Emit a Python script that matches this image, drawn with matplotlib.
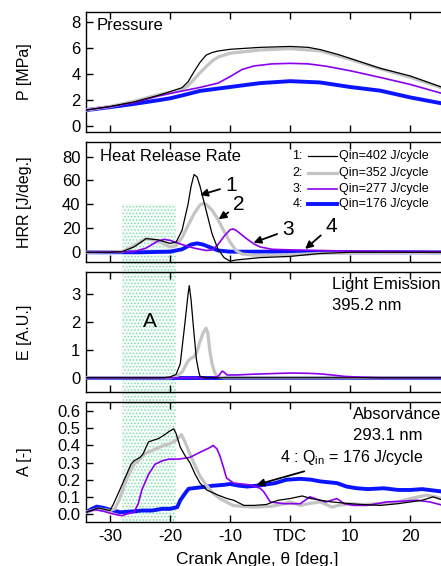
import matplotlib
matplotlib.use("Agg")
import matplotlib.pyplot as plt
from matplotlib.patches import Rectangle
from matplotlib.lines import Line2D

plt.rcParams['font.family'] = ['Liberation Sans', 'DejaVu Sans']
plt.rcParams['hatch.linewidth'] = 0.7

# ---------------- data ----------------
xticks = [-30, -20, -10, 0, 10, 20]
xticklabels = ['-30', '-20', '-10', 'TDC', '10', '20']

legend_ids = ['1:', '2:', '3:', '4:']
legend_labels = ['Qin=402 J/cycle', 'Qin=352 J/cycle', 'Qin=277 J/cycle', 'Qin=176 J/cycle']

# Pressure [MPa]
p1_t = [-34, -30, -26, -22, -20, -18, -17, -16, -15, -14, -13, -12, -10, -5, 0, 3, 5, 8, 10, 15, 20, 25.5]
p1_v = [1.23, 1.5, 1.85, 2.35, 2.64, 2.95, 3.4, 4.18, 4.9, 5.45, 5.65, 5.77, 5.9, 6.05, 6.12, 6.05, 5.88, 5.5, 5.2, 4.44, 3.85, 2.95]
p2_t = [-34, -30, -26, -22, -20, -18, -17, -16, -15, -14, -13, -12, -10, -5, 0, 5, 10, 15, 20, 25.5]
p2_v = [1.23, 1.5, 1.9, 2.4, 2.6, 2.8, 3.1, 3.6, 4.1, 4.56, 5.0, 5.3, 5.6, 5.85, 5.95, 5.78, 5.13, 4.4, 3.75, 2.9]
p3_t = [-34, -30, -26, -22, -20, -15, -12, -10, -8, -6, -3, 0, 3, 6, 10, 15, 20, 25.5]
p3_v = [1.23, 1.48, 1.8, 2.3, 2.5, 2.97, 3.3, 3.8, 4.35, 4.62, 4.78, 4.82, 4.78, 4.6, 4.25, 3.74, 3.2, 2.48]
p4_t = [-34, -30, -26, -22, -20, -18, -15, -10, -5, 0, 5, 10, 15, 20, 25.5]
p4_v = [1.22, 1.45, 1.7, 1.98, 2.13, 2.35, 2.7, 3.0, 3.3, 3.45, 3.35, 3.0, 2.72, 2.2, 1.72]

# Heat release rate [J/deg.]
h1_t = [-34, -30, -28, -26, -24, -22, -20, -19, -18, -17, -16.5, -16, -15.5, -15, -14, -13, -12, -11, -10, -9, -7, -5, 0, 5, 10, 25.5]
h1_v = [-0.5, -0.5, 0, 4, 11, 10, 7, 8, 18, 40, 55, 65, 63, 55, 35, 15, 2, -5, -8, -7, -6, -5, -4, -1.5, -0.5, -0.5]
h2_t = [-34, -28, -26, -24, -22, -20, -19, -18, -17, -16, -15, -14.5, -14, -13, -12, -11, -10, -9, -8, -6, -3, 0, 5, 10, 25.5]
h2_v = [-0.5, 0, 5, 11, 9, 4, 5, 12, 22, 32, 39.5, 40.5, 40, 35, 27, 17, 8, 1, -2, -3, -3, -2.5, -1.5, -1, -0.5]
h3_t = [-34, -26, -24, -22, -21, -20, -18, -16, -14, -13, -12, -11, -10, -9.5, -9, -8, -7, -6, -5, -3, 0, 5, 10, 25.5]
h3_v = [-0.5, 0, 3, 9, 10.4, 9.5, 6, 3, 1, 1.5, 6, 13, 18.5, 19.2, 18, 14, 10, 6.5, 4, 2, 1.5, 1, 0.5, 0]
h4_t = [-34, -25, -20, -18, -16.5, -15.5, -14.5, -13, -12, -10, 0, 10, 25.5]
h4_v = [-0.5, -0.5, 0, 2, 6, 7, 6, 3, 1, 0, 0, -0.5, -0.5]

# Light emission 395.2 nm [A.U.]
e1_t = [-34, -21, -20, -19, -18.3, -17.5, -17, -16.8, -16.5, -16.1, -15.6, -15.2, -15, -14, 25.5]
e1_v = [0, 0, 0.03, 0.12, 0.5, 2.0, 3.0, 3.3, 2.8, 1.8, 0.65, 0.2, 0.05, 0, 0]
e2_t = [-34, -20, -19, -18, -17.5, -17, -16.5, -16, -15.5, -15, -14.5, -14, -13.7, -13.4, -13, -12.6, -12.2, -11, 25.5]
e2_v = [0, 0, 0.05, 0.2, 0.4, 0.6, 0.7, 0.75, 0.95, 1.3, 1.6, 1.78, 1.6, 1.0, 0.5, 0.2, 0.05, 0, 0]
e3_t = [-34, -13, -12, -11.3, -11, -10.5, -9, -6, -3, 0, 3, 5, 7, 9, 12, 15, 25.5]
e3_v = [0, 0, 0.05, 0.24, 0.2, 0.1, 0.1, 0.13, 0.15, 0.17, 0.16, 0.14, 0.1, 0.05, 0.02, 0, 0]
e4_t = [-34, 25.5]
e4_v = [0, 0]

# Absorbance 293.1 nm [-]
a1_t = [-34, -32, -30, -29.4, -28.5, -27.5, -26.5, -26, -25, -24.5, -23.6, -22.8, -21.9, -21, -20.2, -19.4, -19, -18.3, -17.5,
        -16.7, -15.8, -15, -13.9, -12, -10.5, -9.4, -7.7, -6, -4, -2, 0, 2, 3.5, 5, 7, 10, 12, 15, 18, 20, 22, 23.8, 25.5]
a1_v = [0.01, 0.035, 0.02, 0.06, 0.13, 0.21, 0.29, 0.31, 0.33, 0.35, 0.42, 0.43, 0.44, 0.46, 0.48, 0.497, 0.47, 0.39, 0.34,
        0.30, 0.23, 0.18, 0.14, 0.11, 0.09, 0.08, 0.05, 0.05, 0.055, 0.08, 0.09, 0.105, 0.09, 0.08, 0.07, 0.06, 0.055, 0.05,
        0.06, 0.07, 0.08, 0.1, 0.08]
a2_t = [-34, -32, -30, -29.2, -28.5, -27.7, -27, -26, -25, -24.3, -23, -22, -21, -20, -19, -18.1, -17.5, -16.7, -15.8, -15,
        -14, -12.8, -11.7, -10.6, -9.5, -8.3, -6, -3, -1, 0, 1.7, 3, 5, 7, 8, 10, 12, 15, 18, 20, 22.8, 25.5]
a2_v = [0.01, 0.03, 0.02, 0.03, 0.08, 0.16, 0.22, 0.29, 0.32, 0.35, 0.37, 0.385, 0.40, 0.41, 0.43, 0.463, 0.42, 0.35, 0.28,
        0.22, 0.17, 0.12, 0.09, 0.07, 0.05, 0.045, 0.04, 0.045, 0.06, 0.07, 0.05, 0.06, 0.07, 0.04, 0.05, 0.06, 0.055, 0.06,
        0.07, 0.09, 0.11, 0.09]
a3_t = [-34, -32.5, -31, -29.5, -28, -27.2, -26, -25.3, -24.7, -23.6, -22.5, -21.3, -20.2, -18.5, -16.7, -15, -13.5, -12.8,
        -12.2, -11.7, -11, -10.6, -9.4, -6.7, -5, -4.4, -3.3, -1, 1.7, 3.3, 5, 6, 7.8, 9, 10.6, 12.8, 16.1, 19, 21.1, 23.3, 25.5]
a3_v = [0.01, 0.025, 0.015, 0.0, -0.01, 0.0, 0.01, 0.06, 0.14, 0.23, 0.29, 0.31, 0.32, 0.32, 0.33, 0.36, 0.385, 0.40,
        0.38, 0.34, 0.26, 0.21, 0.18, 0.17, 0.15, 0.13, 0.07, 0.06, 0.06, 0.1, 0.08, 0.07, 0.09, 0.06, 0.05, 0.05, 0.07,
        0.075, 0.08, 0.07, 0.05]
a4_t = [-34, -33, -32.2, -31, -30, -28.3, -26, -24.7, -23, -21.3, -20, -18.8, -18.3, -17.5, -16.9, -15, -12.8, -11, -10,
        -8.5, -7.2, -5.5, -4.4, -2.5, -0.6, 1.7, 3.5, 5, 7.8, 9.4, 11.1, 13, 15.6, 18, 20, 22, 25.5]
a4_v = [0.01, 0.03, 0.043, 0.035, 0.025, 0.01, 0.015, 0.02, 0.02, 0.03, 0.03, 0.04, 0.08, 0.12, 0.147, 0.155, 0.165, 0.17,
        0.175, 0.165, 0.16, 0.165, 0.17, 0.18, 0.2, 0.205, 0.2, 0.19, 0.18, 0.16, 0.15, 0.145, 0.15, 0.14, 0.14, 0.145, 0.13]

# ---------------- style ----------------
C1, C2, C3, C4 = 'black', '#c4c4c4', '#8a00f0', '#0a14ff'
LW1, LW2, LW3, LW4 = 0.9, 2.3, 1.2, 2.8
TXT = 12

fig = plt.figure(figsize=(4.41, 5.66), dpi=100)
left, width, height = 0.195, 0.81, 0.212
bottoms = [0.7668, 0.5371, 0.3074, 0.0783]
axes = [fig.add_axes([left, b, width, height]) for b in bottoms]
ax1, ax2, ax3, ax4 = axes

for ax in axes:
    ax.set_facecolor('none')
    ax.set_xlim(-34, 25.5)
    ax.set_xticks(xticks)
    ax.tick_params(axis='both', direction='in', labelsize=12, width=1.0, length=5)
    ax.tick_params(axis='x', top=True, pad=5)
    ax.tick_params(axis='y', pad=4)
    for s in ax.spines.values():
        s.set_linewidth(1.0)
for ax in axes[:-1]:
    ax.set_xticklabels([])
ax4.set_xticklabels(xticklabels)

def four(ax, data):
    cols = [C1, C2, C3, C4]
    lws = [LW1, LW2, LW3, LW4]
    order = [3, 1, 2, 0]
    for i in order:
        t, v = data[i]
        ax.plot(t, v, color=cols[i], lw=lws[i], zorder=3 + (i == 0))

# Pressure
four(ax1, [(p1_t, p1_v), (p2_t, p2_v), (p3_t, p3_v), (p4_t, p4_v)])
ax1.set_ylim(-0.46, 8.77)
ax1.set_yticks([0, 2, 4, 6, 8])
ax1.set_ylabel('P [MPa]', fontsize=11.5)
ax1.text(0.03, 0.89, 'Pressure', transform=ax1.transAxes, fontsize=TXT, va='center', ha='left')

# HRR
four(ax2, [(h1_t, h1_v), (h2_t, h2_v), (h3_t, h3_v), (h4_t, h4_v)])
ax2.set_ylim(-8.7, 92.4)
ax2.set_yticks([0, 20, 40, 60, 80])
ax2.set_ylabel('HRR [J/deg.]', fontsize=11.5)
ax2.text(0.039, 0.883, 'Heat Release Rate', transform=ax2.transAxes, fontsize=TXT, va='center', ha='left')

leg_y = [0.886, 0.739, 0.608, 0.481]
cols = [C1, C2, C3, C4]
lws = [LW1, LW2, LW3, LW4]
for i in range(4):
    ax2.text(0.607, leg_y[i], legend_ids[i], transform=ax2.transAxes, fontsize=9, ha='right', va='center')
    ax2.add_line(Line2D([0.622, 0.704], [leg_y[i], leg_y[i]], transform=ax2.transAxes, color=cols[i], lw=lws[i]))
    ax2.text(0.708, leg_y[i], legend_labels[i], transform=ax2.transAxes, fontsize=9, ha='left', va='center')

arrow_kw = dict(arrowstyle='-|>', color='black', lw=1.3, mutation_scale=11, shrinkA=2, shrinkB=0)
ax2.annotate('1', xy=(-15, 47.7), xytext=(-9.8, 55.5), fontsize=15, ha='center', va='center', arrowprops=arrow_kw)
ax2.annotate('2', xy=(-11.9, 27.3), xytext=(-8.5, 39.5), fontsize=15, ha='center', va='center', arrowprops=arrow_kw)
ax2.annotate('3', xy=(-6.1, 7.6), xytext=(-0.3, 18.3), fontsize=15, ha='center', va='center', arrowprops=arrow_kw)
ax2.annotate('4', xy=(2.5, 2.3), xytext=(6.9, 21.5), fontsize=15, ha='center', va='center', arrowprops=arrow_kw)

# Emission
four(ax3, [(e1_t, e1_v), (e2_t, e2_v), (e3_t, e3_v), (e4_t, e4_v)])
ax3.set_ylim(-0.51, 3.79)
ax3.set_yticks([0, 1, 2, 3])
ax3.set_ylabel('E [A.U.]', fontsize=11.5)
ax3.text(6.9, 3.33, 'Light Emission', fontsize=TXT, ha='left', va='center')
ax3.text(6.9, 2.58, '395.2 nm', fontsize=TXT, ha='left', va='center')
ax3.text(-23.3, 2.0, 'A', fontsize=15, ha='center', va='center')

# Absorbance
four(ax4, [(a1_t, a1_v), (a2_t, a2_v), (a3_t, a3_v), (a4_t, a4_v)])
ax4.set_ylim(-0.045, 0.655)
ax4.set_yticks([0.0, 0.1, 0.2, 0.3, 0.4, 0.5, 0.6])
ax4.set_yticklabels(['0.0', '0.1', '0.2', '0.3', '0.4', '0.5', '0.6'])
ax4.set_ylabel('A [-]', fontsize=11.5)
ax4.text(10.4, 0.58, 'Absorvance', fontsize=TXT, ha='left', va='center')
ax4.text(10.4, 0.457, '293.1 nm', fontsize=TXT, ha='left', va='center')
ax4.annotate(r'4 : Q$_{\mathregular{in}}$ = 176 J/cycle', xy=(-5.6, 0.17), xytext=(-1.7, 0.327),
             fontsize=11.5, ha='left', va='center',
             arrowprops=dict(arrowstyle='-|>', color='black', lw=1.3, mutation_scale=11, shrinkA=3, shrinkB=0))
ax4.set_xlabel('Crank Angle, θ [deg.]', fontsize=12.5)
ax4.xaxis.set_label_coords(0.48, -0.255)

for ax in axes:
    ax.yaxis.set_label_coords(-0.151, 0.5)

# Shaded region A spanning panels
fig.canvas.draw()
inv = fig.transFigure.inverted()
x0, y1 = inv.transform(ax2.transData.transform((-28, 40)))
x1, y0 = inv.transform(ax4.transData.transform((-19, ax4.get_ylim()[0])))
rect = Rectangle((x0, y0), x1 - x0, y1 - y0, transform=fig.transFigure, facecolor='#f5fcf8',
                 edgecolor='#86dcb2', hatch='.....', lw=0, zorder=-1)
fig.patches.append(rect)

fig.savefig('out.png', dpi=100)
